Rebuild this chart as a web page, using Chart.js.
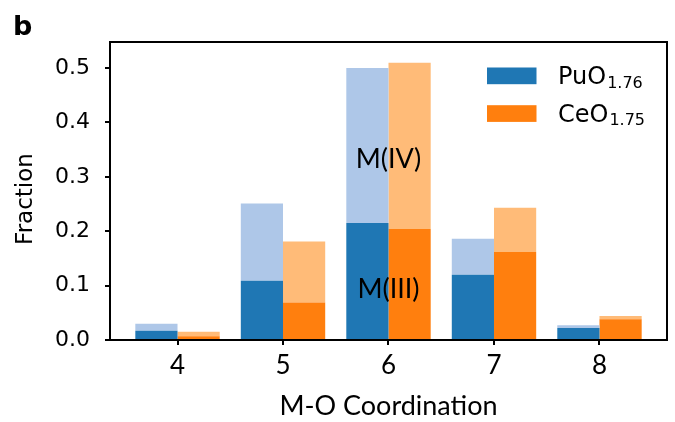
<!DOCTYPE html>
<html>
<head>
<meta charset="utf-8">
<script src="https://cdn.jsdelivr.net/npm/chart.js@4.4.1/dist/chart.umd.min.js"></script>
<style>
  html, body { margin: 0; padding: 0; background: #ffffff; }
  #wrap { width: 675px; height: 422px; position: relative; }
</style>
</head>
<body>
<div id="wrap"><canvas id="chart"></canvas></div>
<script>
// Coordination numbers on the x axis
const coordination = [4, 5, 6, 7, 8];

// Fraction of metal sites per coordination number, split by oxidation state
const puIII = [0.017, 0.109, 0.215, 0.120, 0.022];
const puIV  = [0.013, 0.142, 0.285, 0.066, 0.005];
const ceIII = [0.007, 0.069, 0.204, 0.162, 0.038];
const ceIV  = [0.008, 0.112, 0.306, 0.081, 0.006];

const yTicks = [0.0, 0.1, 0.2, 0.3, 0.4, 0.5];

const legendItems = [
  { base: 'PuO', sub: '1.76', color: '#1f77b4' },
  { base: 'CeO', sub: '1.75', color: '#ff7f0e' }
];

const toPoints = vals => coordination.map((c, i) => ({ x: c, y: vals[i] }));

const mkSet = (label, vals, color, stack) => ({
  label, data: toPoints(vals), backgroundColor: color, stack,
  borderWidth: 0, categoryPercentage: 0.8, barPercentage: 1.0
});

const SANS = '"DejaVu Sans", sans-serif';
const HUMAN = 'Lato, "Open Sans", sans-serif';

// Frame, oxidation-state labels, custom legend, panel letter and y title
const decorations = {
  id: 'decorations',
  afterDatasetsDraw(chart) {
    const { ctx, chartArea: a, scales: { x, y } } = chart;
    ctx.save();

    // oxidation-state labels placed in data space
    ctx.fillStyle = '#000';
    ctx.font = '27px ' + HUMAN;
    ctx.textAlign = 'center';
    ctx.textBaseline = 'alphabetic';
    ctx.fillText('M(IV)', x.getPixelForValue(6), y.getPixelForValue(0.317));
    ctx.fillText('M(III)', x.getPixelForValue(6), y.getPixelForValue(0.077));

    // plot frame
    ctx.strokeStyle = '#000';
    ctx.lineWidth = 2;
    ctx.strokeRect(a.left, a.top, a.right - a.left, a.bottom - a.top);

    // legend
    ctx.textAlign = 'left';
    legendItems.forEach((it, i) => {
      const rowY = a.top + 25.5 + i * 37.7;
      ctx.fillStyle = it.color;
      ctx.fillRect(a.right - 180, rowY, 49.5, 16.7);
      ctx.fillStyle = '#000';
      ctx.font = '24px ' + SANS;
      const tx = a.right - 109;
      const base = rowY + 16.7;
      ctx.fillText(it.base, tx, base);
      const w = ctx.measureText(it.base).width;
      ctx.font = '16px ' + SANS;
      ctx.fillText(it.sub, tx + w + 1, base + 3.5);
    });

    // y axis title
    ctx.font = '23px ' + SANS;
    ctx.textAlign = 'center';
    ctx.textBaseline = 'middle';
    ctx.translate(26, 199);
    ctx.rotate(-Math.PI / 2);
    ctx.fillText('Fraction', 0, 0);
    ctx.restore();

    // panel letter
    ctx.save();
    ctx.fillStyle = '#000';
    ctx.font = 'bold 27px ' + SANS;
    ctx.textAlign = 'left';
    ctx.textBaseline = 'alphabetic';
    ctx.fillText('b', 13, 35);
    ctx.restore();
  }
};

new Chart(document.getElementById('chart'), {
  type: 'bar',
  data: {
    datasets: [
      mkSet('PuO1.76 M(III)', puIII, '#1f77b4', 'Pu'),
      mkSet('PuO1.76 M(IV)', puIV, '#aec7e8', 'Pu'),
      mkSet('CeO1.75 M(III)', ceIII, '#ff7f0e', 'Ce'),
      mkSet('CeO1.75 M(IV)', ceIV, '#ffbb78', 'Ce')
    ]
  },
  options: {
    responsive: true,
    maintainAspectRatio: false,
    animation: false,
    layout: { padding: { top: 42, right: 8, left: 0, bottom: 0 } },
    plugins: { legend: { display: false }, tooltip: { enabled: false } },
    scales: {
      x: {
        type: 'linear',
        stacked: true,
        offset: false,
        min: 3.36,
        max: 8.64,
        afterFit: s => { s.height = 82; },
        afterBuildTicks: s => { s.ticks = coordination.map(v => ({ value: v })); },
        border: { display: false },
        grid: { display: true, drawOnChartArea: false, drawTicks: true, tickLength: 5,
                color: '#000', lineWidth: 2, offset: false },
        ticks: { color: '#000', font: { family: HUMAN, size: 26 }, padding: 5,
                 maxRotation: 0, callback: v => String(v) },
        title: { display: true, text: 'M-O Coordination', color: '#000',
                 font: { family: HUMAN, size: 27 }, padding: { top: 0, bottom: 0 } }
      },
      y: {
        stacked: true,
        min: 0,
        max: 0.548,
        afterFit: s => { s.width = 110; },
        afterBuildTicks: s => { s.ticks = yTicks.map(v => ({ value: v })); },
        border: { display: false },
        grid: { display: true, drawOnChartArea: false, drawTicks: true, tickLength: 5,
                color: '#000', lineWidth: 2 },
        ticks: { color: '#000', font: { family: SANS, size: 22 }, padding: 15,
                 callback: v => Number(v).toFixed(1) }
      }
    }
  },
  plugins: [decorations]
});
</script>
</body>
</html>
